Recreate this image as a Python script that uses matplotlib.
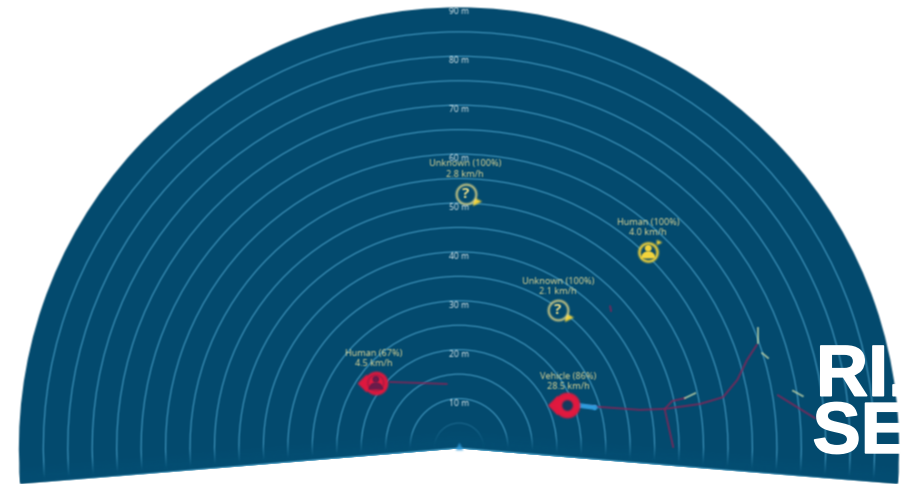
import numpy as np
import matplotlib
matplotlib.use("Agg")
import matplotlib.pyplot as plt
import matplotlib.patheffects as pe
from matplotlib.patches import Wedge, Rectangle, Circle
from matplotlib.colors import to_rgb

# Все координаты в метрах, начало в точке радара
PX_PER_M = 4.89
CENTER_PX = (459, 447.5)
W, H = 902, 484

BG = "#034a6e"
BAND = "#044e73"
RING = "#4aa3cc"
TRACK = "#7f2658"
RED = "#e0193f"
YELLOW = "#f2d43c"
LABEL = "#e6dc96"
PALE = "#b9cfa6"

ring_radii = [5, 10, 15, 20, 25, 30, 35, 40, 45, 50, 55, 60, 65, 70, 75, 80, 85]
range_marks = [10, 20, 30, 40, 50, 60, 70, 80, 90]

main_track_x = [25.8, 37.0, 42.1, 49.3, 54.0, 56.9, 58.9, 60.9]
main_track_y = [8.5, 7.7, 7.9, 8.9, 10.3, 13.8, 17.9, 21.0]
branch_a_x = [42.1, 43.8]
branch_a_y = [7.7, 0.1]
branch_b_x = [42.1, 43.6, 46.2]
branch_b_y = [7.9, 9.5, 10.1]
right_track_x = [65.2, 72.8]
right_track_y = [10.7, 6.0]
human_track_x = [-14.1, -2.5]
human_track_y = [13.4, 13.0]
short_track_x = [30.9, 31.1]
short_track_y = [28.9, 27.9]

arrow_starts = [(46.2, 10.1), (61.1, 21.4), (62.0, 19.3), (68.3, 11.6)]
arrow_ends = [(48.3, 11.1), (61.1, 24.4), (63.2, 18.3), (70.3, 10.5)]

target_kinds = ["human", "vehicle", "unknown", "unknown", "human_ok"]
target_x = [-17.0, 22.1, 1.4, 20.2, 38.7]
target_y = [13.2, 8.7, 51.8, 28.1, 40.0]
target_labels = ["Human (67%)\n4.5 km/h", "Vehicle (86%)\n28.5 km/h", "Unknown (100%)\n2.8 km/h",
                 "Unknown (100%)\n2.1 km/h", "Human (100%)\n4.0 km/h"]
label_x = [-17.4, 22.3, 1.2, 20.2, 38.7]
label_y = [18.2, 13.5, 57.0, 32.9, 45.0]

plt.rcParams["font.family"] = ["Open Sans", "DejaVu Sans"]


def soft(img, dpi):
    # Лёгкое размытие как в исходном скриншоте (в premultiplied, чтобы не было кайм)
    pad = 3
    out = np.pad(img, ((pad, pad), (pad, pad), (0, 0))).astype(float)
    alpha = out[..., 3:].copy()
    out[..., :3] *= alpha
    kernel = np.array([0.25, 0.5, 0.25])
    for axis in (0, 1):
        out = np.apply_along_axis(lambda v: np.convolve(v, kernel, mode="same"), axis, out)
    a = out[..., 3:]
    out[..., :3] = np.where(a > 1e-4, out[..., :3] / np.maximum(a, 1e-4), 0)
    return np.clip(out, 0, 1), -pad, -pad


fig = plt.figure(figsize=(W / 100, H / 100), dpi=100)
ax = fig.add_axes([0, 0, 1, 1])
ax.set_axis_off()

sector = Wedge((0, 0), 90, -4.7, 184.7, facecolor=BG, edgecolor="none", zorder=1)
ax.add_patch(sector)

# Кольца дальности
for r in ring_radii:
    alpha = 0.3 if r == 5 else 0.8
    ax.add_patch(Wedge((0, 0), r, -4.7, 184.7, fill=False, edgecolor=RING,
                       linewidth=0.9, alpha=alpha, zorder=2, clip_path=sector))

# Затухание у нижней кромки сектора
xs = np.linspace(-92, 92, 400)
ys = np.linspace(-8, 12, 120)
gx, gy = np.meshgrid(xs, ys)
dist = gy + np.abs(gx) * np.tan(np.radians(4.7))
fade = np.zeros(gx.shape + (4,))
fade[..., :3] = to_rgb(BAND)
fade[..., 3] = np.clip(1.2 - dist / 3.4, 0, 1)
im = ax.imshow(fade, extent=(-92, 92, -8, 12), origin="lower", aspect="auto", zorder=3)
im.set_clip_path(sector)

# Треки
for tx, ty in [(main_track_x, main_track_y), (branch_a_x, branch_a_y), (branch_b_x, branch_b_y),
               (right_track_x, right_track_y), (human_track_x, human_track_y),
               (short_track_x, short_track_y)]:
    ax.plot(tx, ty, color=TRACK, lw=1.5, alpha=0.8, zorder=4, solid_capstyle="round")

for (x0, y0), (x1, y1) in zip(arrow_starts, arrow_ends):
    ax.plot([x0, x1], [y0, y1], color=PALE, lw=1.3, alpha=0.85, zorder=5)

# Точка радара и стрелка скорости машины
ax.scatter([0], [0.4], s=30, marker="^", color="#2f9bdc", alpha=0.85, linewidths=0, zorder=5)
ax.plot([24.5, 27.6], [8.6, 8.2], color="#2f9bdc", lw=3.4, zorder=5)
ax.scatter([28.0], [8.2], s=16, marker=">", color="#2f9bdc", linewidths=0, zorder=5)


def person(x, y, color, z):
    ax.add_patch(Circle((x, y + 0.75), 0.7, facecolor=color, edgecolor="none", zorder=z))
    ax.add_patch(Wedge((x, y - 1.35), 1.5, 0, 180, facecolor=color, edgecolor="none", zorder=z))


def draw_target(kind, x, y):
    if kind in ("human", "vehicle"):
        size = 340 if kind == "vehicle" else 290
        ax.scatter([x - 2.1], [y], s=size * 0.28, marker="D", color=RED, linewidths=0, zorder=6)
        ax.scatter([x], [y], s=size, marker="o", color=RED, linewidths=0, zorder=6)
        if kind == "vehicle":
            ax.scatter([x], [y], s=60, marker="o", color="#123a5e", linewidths=0, zorder=7)
        else:
            ax.scatter([x], [y], s=130, marker="o", facecolor="none", edgecolor="#8a1a45", lw=0.8, zorder=7)
            person(x, y, "#6a1c4a", 7)
    elif kind == "unknown":
        ax.scatter([x + 2.3], [y - 1.4], s=42, marker=">", color=YELLOW, linewidths=0, zorder=6)
        ax.scatter([x], [y], s=200, marker="o", facecolor=BG, edgecolor="#efe08a", lw=1.3, zorder=7)
        ax.text(x, y, "?", color="#efe08a", fontsize=11, fontweight="bold", ha="center",
                va="center", zorder=8)
    else:
        ax.scatter([x + 2.3], [y + 2.0], s=16, marker=">", color=YELLOW, linewidths=0, zorder=6)
        ax.scatter([x], [y], s=220, marker="o", facecolor=YELLOW, linewidths=0, zorder=6)
        ax.scatter([x], [y], s=125, marker="o", color="#0c4a66", linewidths=0, zorder=7)
        person(x, y, YELLOW, 8)


for kind, x, y in zip(target_kinds, target_x, target_y):
    draw_target(kind, x, y)

for text, x, y in zip(target_labels, label_x, label_y):
    ax.text(x, y, text, color=LABEL, fontsize=6.6, ha="center", va="center",
            linespacing=1.25, zorder=9)

for r in range_marks:
    ax.text(0, r - 0.9, f"{r} m", color="#e2eef0", fontsize=6.2, ha="center", va="center", zorder=9)

# Размываем всё, кроме логотипа
for artist in ax.get_children():
    if artist is not ax.patch and hasattr(artist, "set_agg_filter") and artist not in ax.spines.values():
        artist.set_agg_filter(soft)

# Логотип обрезан справа
logo_clip = Rectangle((60, -10), 30, 40, transform=ax.transData)
for text, x, y in [("RI.", 73.0, 10.6), ("SE", 72.3, -1.1)]:
    t = ax.text(x, y, text, color="white", fontsize=52, fontweight="bold", family="Liberation Sans",
                ha="left", va="baseline", zorder=10,
                path_effects=[pe.withStroke(linewidth=1.2, foreground="white")])
    t.set_clip_path(logo_clip)

ax.set_xlim(-CENTER_PX[0] / PX_PER_M, (W - CENTER_PX[0]) / PX_PER_M)
ax.set_ylim((CENTER_PX[1] - H) / PX_PER_M, CENTER_PX[1] / PX_PER_M)

fig.savefig("out.png", dpi=100, facecolor="white")
